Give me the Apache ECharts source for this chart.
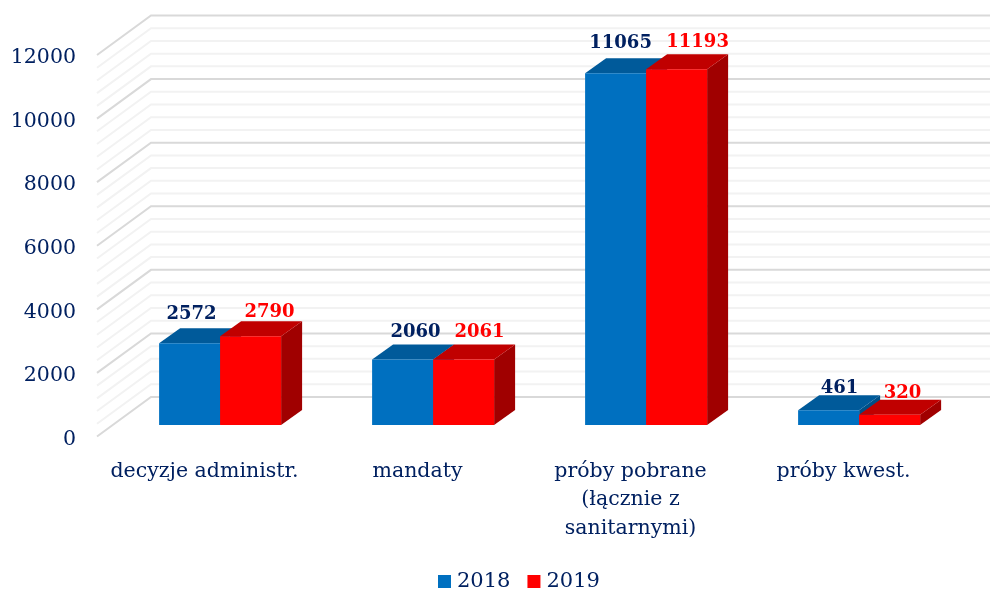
<!DOCTYPE html>
<html><head><meta charset="utf-8">
<style>html,body{margin:0;padding:0;background:#fff}#c{width:990px;height:590px}</style>
<script src="https://cdn.jsdelivr.net/npm/echarts@6/dist/echarts.min.js"></script>
</head><body><div id="c"></div>
<script>
const categories = ['decyzje administr.', 'mandaty', 'próby pobrane\n(łącznie z\nsanitarnymi)', 'próby kwest.'];
const values2018 = [2572, 2060, 11065, 461];
const values2019 = [2790, 2061, 11193, 320];
const majorTicks = [0, 2000, 4000, 6000, 8000, 10000, 12000];
const minorTicks = [400, 800, 1200, 1600, 2400, 2800, 3200, 3600, 4400, 4800, 5200, 5600, 6400, 6800, 7200, 7600, 8400, 8800, 9200, 9600, 10400, 10800, 11200, 11600];

// label placement relative to each bar's front-top centre
const nudge2018 = [[2, -29], [13, -27], [5, -30], [11, -22]];
const nudge2019 = [[19, -24], [16, -27], [21, -27], [13, -21]];

const FONT = '"DejaVu Serif"';
const NAVY = '#002060';
const WALL = [53, -39.5], BAR_SHIFT = [15.6, -11.5], BAR_DEPTH = [21, -15], BAR_W = 61;

function gridSeries(ticks, color) {
  return {
    type: 'custom', silent: true, z: 1, clip: false, legendHoverLink: false,
    data: ticks.map(v => [0, v]),
    encode: { x: 0, y: 1 },
    renderItem(params, api) {
      const y = api.coord([0, api.value(1)])[1];
      const x0 = params.coordSys.x;
      return {
        type: 'polyline',
        shape: { points: [[x0 - 1, y], [x0 + WALL[0], y + WALL[1]], [1000, y + WALL[1]]] },
        style: { stroke: color, lineWidth: 2, fill: null }
      };
    }
  };
}

function barSeries(name, values, side, c, nudge, labelColor) {
  return {
    type: 'custom', name, z: 2, clip: false,
    itemStyle: { color: c.front },
    data: values.map((v, i) => [i, v]),
    encode: { x: 0, y: 1 },
    renderItem(params, api) {
      const i = api.value(0), v = api.value(1);
      const top = api.coord([i, v]), base = api.coord([i, 0]);
      const l = top[0] + BAR_SHIFT[0] + (side < 0 ? -BAR_W : 0), r = l + BAR_W;
      const t = top[1] + BAR_SHIFT[1], b = base[1] + BAR_SHIFT[1];
      const dx = BAR_DEPTH[0], dy = BAR_DEPTH[1];
      const n = nudge[i];
      return {
        type: 'group',
        children: [
          { type: 'polygon', shape: { points: [[r, t], [r + dx, t + dy], [r + dx, b + dy], [r, b]] }, style: { fill: c.side } },
          { type: 'polygon', shape: { points: [[l, t], [l + dx, t + dy], [r + dx, t + dy], [r, t]] }, style: { fill: c.top } },
          { type: 'rect', shape: { x: l, y: t, width: BAR_W, height: b - t }, style: { fill: c.front } },
          { type: 'text', z2: 10, style: {
              x: (l + r) / 2 + n[0], y: t + n[1], text: String(v), align: 'center', verticalAlign: 'middle',
              fill: labelColor, font: 'bold 18px ' + FONT } }
        ]
      };
    }
  };
}

const chart = echarts.init(document.getElementById('c'), null, { renderer: 'canvas' });
chart.setOption({
  animation: false,
  backgroundColor: '#fff',
  grid: { left: 98, right: 40, top: 55, bottom: 153.5 },
  xAxis: {
    type: 'category', data: categories,
    axisLine: { show: false }, axisTick: { show: false }, splitLine: { show: false },
    axisLabel: { interval: 0, margin: 20.5, color: NAVY, fontFamily: FONT, fontSize: 20.5, lineHeight: 28.5 }
  },
  yAxis: {
    type: 'value', min: 0, max: 12000, interval: 2000,
    axisLine: { show: false }, axisTick: { show: false }, splitLine: { show: false },
    axisLabel: { margin: 22, color: NAVY, fontFamily: FONT, fontSize: 20.5, verticalAlign: 'top', lineHeight: 6, formatter: v => String(v) }
  },
  legend: {
    left: 438, top: 571, padding: 0, icon: 'rect', itemWidth: 13, itemHeight: 13, itemGap: 17,
    data: ['2018', '2019'], selectedMode: false,
    textStyle: { color: NAVY, fontFamily: FONT, fontSize: 21, padding: [0, 0, 0, 1] }
  },
  series: [
    gridSeries(minorTicks, '#F2F2F2'),
    gridSeries(majorTicks, '#D9D9D9'),
    barSeries('2018', values2018, -1, { front: '#0070C0', top: '#005A9A', side: '#004F87' }, nudge2018, NAVY),
    barSeries('2019', values2019, 1, { front: '#FF0000', top: '#C00000', side: '#A00000' }, nudge2019, '#FF0000')
  ]
});
</script></body></html>
